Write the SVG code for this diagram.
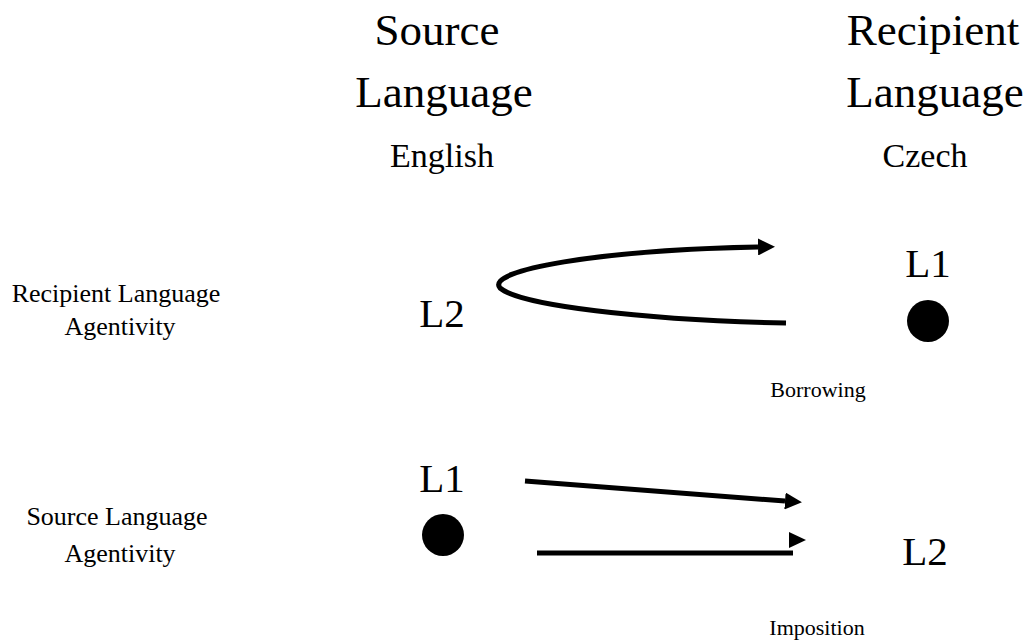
<svg xmlns="http://www.w3.org/2000/svg" width="1035" height="643" viewBox="0 0 1035 643">
  <style>
    text { font-family: "Liberation Serif", "Times New Roman", serif; fill: #000; text-anchor: middle; }
    .head { font-size: 45px; }
    .lang { font-size: 34px; }
    .lvl { font-size: 41px; }
    .side { font-size: 26px; }
    .note { font-size: 22px; }
    .link { fill: none; stroke: #000; stroke-width: 5; }
  </style>
  <defs>
    <marker id="tip" viewBox="0 0 10 10" refX="0" refY="5" markerWidth="3.4" markerHeight="3.4" orient="auto" markerUnits="strokeWidth">
      <path d="M0,0 L10,5 L0,10 Z" fill="#000"/>
    </marker>
  </defs>

  <!-- column headings -->
  <g id="source-heading">
    <text class="head" x="437" y="45">Source</text>
    <text class="head" x="444" y="107">Language</text>
    <text class="lang" x="442" y="167">English</text>
  </g>
  <g id="recipient-heading">
    <text class="head" x="933" y="45">Recipient</text>
    <text class="head" x="935" y="107">Language</text>
    <text class="lang" x="925" y="167">Czech</text>
  </g>

  <!-- row labels -->
  <g id="recipient-agentivity">
    <text class="side" x="116" y="302">Recipient Language</text>
    <text class="side" x="120" y="335">Agentivity</text>
  </g>
  <g id="source-agentivity">
    <text class="side" x="117" y="525">Source Language</text>
    <text class="side" x="120" y="562">Agentivity</text>
  </g>

  <!-- borrowing row -->
  <g id="l2-source">
    <text class="lvl" x="442" y="327">L2</text>
  </g>
  <g id="l1-recipient">
    <text class="lvl" x="928" y="277">L1</text>
    <circle cx="928" cy="321" r="21" fill="#000"/>
  </g>
  <g id="borrowing-label">
    <text class="note" x="818" y="397">Borrowing</text>
  </g>

  <!-- imposition row -->
  <g id="l1-source">
    <text class="lvl" x="442" y="492">L1</text>
    <circle cx="443" cy="535" r="21" fill="#000"/>
  </g>
  <g id="l2-recipient">
    <text class="lvl" x="925" y="565">L2</text>
  </g>
  <g id="imposition-label">
    <text class="note" x="817" y="635">Imposition</text>
  </g>

  <!-- connectors -->
  <g id="connectors">
    <path class="link" d="M786,323 C640,320 520,305 500,288 C485,270 600,250 758,247" marker-end="url(#tip)"/>
    <path class="link" d="M525,481 L785,501" marker-end="url(#tip)"/>
    <path class="link" d="M537,553 L793,553"/>
    <path d="M789,532 L806,540 L789,548 Z" fill="#000"/>
  </g>
</svg>
